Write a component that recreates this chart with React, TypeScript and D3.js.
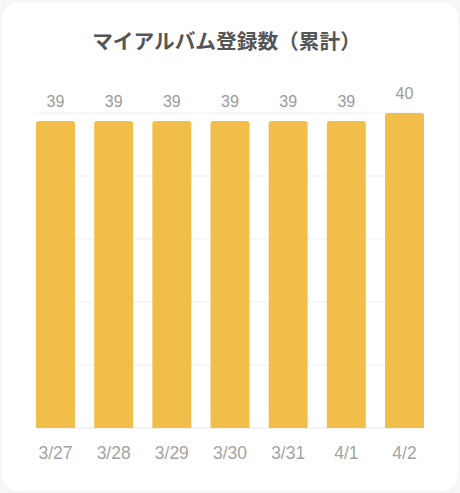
import React from "react";
import * as d3 from "d3";

const categories = ["3/27", "3/28", "3/29", "3/30", "3/31", "4/1", "4/2"];
const values = [39, 39, 39, 39, 39, 39, 40];
const yTicks = [0, 8, 16, 24, 32, 40];
const title = "マイアルバム登録数（累計）";

const W = 460;
const H = 493;

export default function App() {
  const x = d3.scaleBand<string>().domain(categories).range([36, 424]).paddingInner(0.33).paddingOuter(0);
  const y = d3.scaleLinear().domain([0, 40]).range([428, 113]);
  const r = 3;
  const barPath = (xs: number, w: number, top: number, bottom: number) =>
    `M${xs},${bottom}V${top + r}Q${xs},${top} ${xs + r},${top}H${xs + w - r}Q${xs + w},${top} ${xs + w},${top + r}V${bottom}Z`;

  return (
    <svg
      width={W}
      height={H}
      style={{ position: "fixed", left: 0, top: 0, display: "block" }}
      xmlns="http://www.w3.org/2000/svg"
    >
      <rect x={0} y={0} width={W} height={H} fill="#f6f6f6" />
      <rect x={2} y={2} width={W - 4} height={H - 4} rx={16} fill="#ffffff" />
      <text
        x={226.5}
        y={48.5}
        textAnchor="middle"
        fontFamily="'Noto Sans CJK JP', sans-serif"
        fontWeight={700}
        fontSize={20.7}
        fill="#555555"
      >
        {title}
      </text>
      {yTicks.map((t) => (
        <line key={t} x1={36} x2={424} y1={y(t)} y2={y(t)} stroke={t === 0 ? "#e6e6e6" : "#efefef"} strokeWidth={1} />
      ))}
      {categories.map((c, i) => {
        const xs = x(c) as number;
        const w = x.bandwidth();
        const top = y(values[i]);
        return (
          <g key={c}>
            <path d={barPath(xs, w, top, y(0))} fill="#F2BE4A" />
            <text
              x={xs + w / 2}
              y={top - 14}
              textAnchor="middle"
              fontFamily="'Liberation Sans', Arial, sans-serif"
              fontSize={16}
              fill="#9b9b9b"
            >
              {values[i]}
            </text>
            <text
              x={xs + w / 2}
              y={459}
              textAnchor="middle"
              fontFamily="'Liberation Sans', Arial, sans-serif"
              fontSize={17.5}
              fill="#a3a3a3"
            >
              {c}
            </text>
          </g>
        );
      })}
    </svg>
  );
}
